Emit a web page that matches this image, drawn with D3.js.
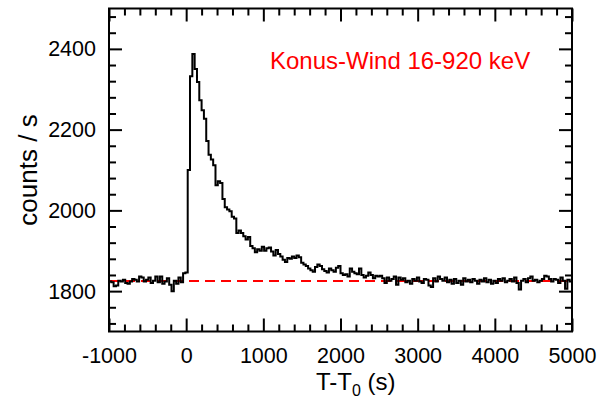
<!DOCTYPE html>
<html>
<head>
<meta charset="utf-8">
<script src="https://cdn.jsdelivr.net/npm/d3@7"></script>
<style>
  html, body { margin: 0; padding: 0; background: #fff; }
  svg { display: block; }
  text { font-family: "Liberation Sans", Arial, sans-serif; }
</style>
</head>
<body>
<svg id="chart" width="597" height="401"></svg>
<script>
// ---- data ----
const binStart = -1000;      // s, start of first bin
const binWidth = 30;         // s
const counts = [
  1824,1822,1812,1814,1826,1824,1828,1820,1818,1824,
  1830,1828,1824,1836,1834,1824,1828,1834,1820,1826,
  1836,1822,1836,1818,1824,1832,1816,1800,1826,1818,
  1834,1822,1844,1846,2100,2332,2387,2350,2318,2273,
  2248,2227,2172,2138,2126,2112,2062,2072,2068,2028,
  2008,2002,1998,1984,1980,1944,1950,1944,1936,1928,
  1934,1912,1906,1896,1904,1900,1910,1900,1906,1908,
  1898,1888,1902,1892,1886,1878,1872,1882,1880,1886,
  1882,1888,1884,1870,1866,1862,1856,1852,1848,1860,
  1866,1862,1854,1850,1846,1856,1852,1848,1858,1862,
  1844,1840,1842,1836,1856,1848,1844,1842,1856,1840,
  1834,1838,1846,1840,1832,1838,1836,1838,1832,1820,
  1834,1826,1830,1836,1816,1834,1828,1832,1822,1826,
  1818,1830,1826,1834,1824,1820,1830,1828,1814,1810,
  1832,1824,1836,1830,1826,1834,1822,1828,1818,1830,
  1820,1826,1816,1832,1824,1828,1822,1830,1826,1818,
  1828,1824,1832,1822,1828,1818,1826,1820,1830,1826,
  1832,1822,1826,1830,1824,1834,1820,1804,1826,1830,
  1822,1832,1836,1826,1828,1822,1826,1830,1838,1836,
  1830,1824,1830,1828,1820,1834,1826,1806,1828,1824
];
const background = 1825;
const xDomain = [-1000, 5000];
const yDomain = [1700, 2500];
const xMajorTicks = [-1000, 0, 1000, 2000, 3000, 4000, 5000];
const yMajorTicks = [1800, 2000, 2200, 2400];
const xMinorStep = 200;
const yMinorStep = 40;
const titleText = "Konus-Wind 16-920 keV";
const yLabel = "counts / s";

(function draw() {
  const svg = d3.select("#chart");
  const L = 109, R = 572, T = 8.5, B = 331.5;
  const x = d3.scaleLinear().domain(xDomain).range([L, R]);
  const y = d3.scaleLinear().domain(yDomain).range([B, T]);
  const fmt = d => String(d);

  const pts = counts.map((c, i) => [binStart + i * binWidth, c]);
  pts.push([binStart + counts.length * binWidth, counts[counts.length - 1]]);

  svg.append("clipPath").attr("id", "clip")
    .append("rect").attr("x", L).attr("y", T).attr("width", R - L).attr("height", B - T);

  const g = svg.append("g").attr("clip-path", "url(#clip)");

  g.append("line")
    .attr("x1", x(xDomain[0])).attr("x2", x(xDomain[1]))
    .attr("y1", y(background)).attr("y2", y(background))
    .attr("stroke", "#ff0000").attr("stroke-width", 2)
    .attr("stroke-dasharray", "10,6");

  const line = d3.line().x(d => x(d[0])).y(d => y(d[1])).curve(d3.curveStepAfter);
  g.append("path").datum(pts)
    .attr("d", line)
    .attr("fill", "none").attr("stroke", "#000").attr("stroke-width", 2);

  const xMinor = d3.range(xDomain[0], xDomain[1] + 1, xMinorStep).filter(v => !xMajorTicks.includes(v));
  const yMinor = d3.range(1720, yDomain[1], yMinorStep).filter(v => !yMajorTicks.includes(v));

  const MAJ = 13, MIN = 7;
  const fs = 21.5;

  svg.append("g").attr("transform", `translate(0,${B})`)
    .call(d3.axisBottom(x).tickValues(xMajorTicks).tickSizeInner(-MAJ).tickSizeOuter(0).tickPadding(16).tickFormat(fmt));
  svg.append("g").attr("transform", `translate(0,${B})`)
    .call(d3.axisBottom(x).tickValues(xMinor).tickSize(-MIN).tickFormat(""));
  svg.append("g").attr("transform", `translate(0,${T})`)
    .call(d3.axisTop(x).tickValues(xMajorTicks).tickSizeInner(-MAJ).tickSizeOuter(0).tickFormat(""));
  svg.append("g").attr("transform", `translate(0,${T})`)
    .call(d3.axisTop(x).tickValues(xMinor).tickSize(-MIN).tickFormat(""));
  svg.append("g").attr("transform", `translate(${L},0)`)
    .call(d3.axisLeft(y).tickValues(yMajorTicks).tickSizeInner(-MAJ).tickSizeOuter(0).tickPadding(13).tickFormat(fmt));
  svg.append("g").attr("transform", `translate(${L},0)`)
    .call(d3.axisLeft(y).tickValues(yMinor).tickSize(-MIN).tickFormat(""));
  svg.append("g").attr("transform", `translate(${R},0)`)
    .call(d3.axisRight(y).tickValues(yMajorTicks).tickSizeInner(-MAJ).tickSizeOuter(0).tickFormat(""));
  svg.append("g").attr("transform", `translate(${R},0)`)
    .call(d3.axisRight(y).tickValues(yMinor).tickSize(-MIN).tickFormat(""));

  svg.selectAll(".domain").remove();
  svg.selectAll(".tick line").attr("stroke", "#000").attr("stroke-width", 2);
  svg.selectAll(".tick text")
    .attr("fill", "#000").attr("font-size", fs)
    .attr("font-family", "'Liberation Sans', Arial, sans-serif");

  svg.append("rect").attr("x", L).attr("y", T).attr("width", R - L).attr("height", B - T)
    .attr("fill", "none").attr("stroke", "#000").attr("stroke-width", 2);

  svg.append("text").attr("x", 270).attr("y", 69)
    .attr("fill", "#ff0000").attr("font-size", 24)
    .text(titleText);

  const xl = svg.append("text").attr("x", 316).attr("y", 390)
    .attr("text-anchor", "start").attr("font-size", 24).attr("fill", "#000");
  xl.append("tspan").text("T-T");
  xl.append("tspan").attr("font-size", 16).attr("dy", 6).text("0");
  xl.append("tspan").attr("dy", -6).text(" (s)");

  svg.append("text")
    .attr("transform", `translate(37,${(T + B) / 2}) rotate(-90)`)
    .attr("text-anchor", "middle").attr("font-size", 26).attr("fill", "#000")
    .text(yLabel);
})();
</script>
</body>
</html>
